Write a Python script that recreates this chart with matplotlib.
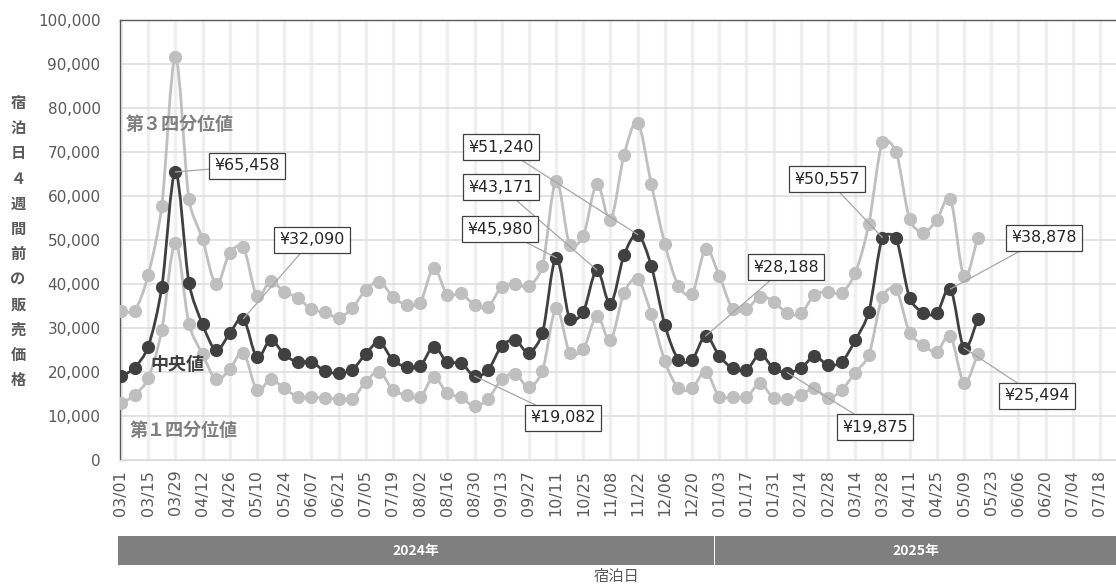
import numpy as np
import pandas as pd
import matplotlib
matplotlib.use("Agg")
import matplotlib.pyplot as plt
import matplotlib.dates as mdates
from matplotlib.path import Path
from matplotlib.patches import PathPatch, Rectangle

plt.rcParams["font.family"] = ["DejaVu Sans", "Noto Sans CJK JP"]

W, H = 1116, 585

# weekly stay dates
dates = pd.date_range("2024-03-01", periods=64, freq="7D")

median = [19000, 20980, 25760, 39250, 65458, 40300, 30840, 25000, 28800, 32090,
          23340, 27270, 24020, 22200, 22350, 20150, 19800, 20500, 24100, 26800,
          22650, 21200, 21300, 25760, 22200, 22050, 19082, 20450, 25900, 27200,
          24390, 28940, 45980, 32100, 33710, 43171, 35500, 46590, 51240, 44090,
          30680, 22800, 22800, 28188, 23640, 20830, 20450, 24000, 20830, 19875,
          20830, 23550, 21600, 22300, 27200, 33710, 50557, 50380, 36850, 33520,
          33400, 38878, 25494, 31970]

q3 = [33940, 33940, 42050, 57800, 91520, 59240, 50150, 39920, 47120, 48330,
      37270, 40680, 38180, 36890, 34240, 33560, 32350, 34470, 38640, 40530,
      37120, 35230, 35760, 43560, 37500, 37880, 35230, 34800, 39400, 40000,
      39450, 44090, 63480, 48860, 50910, 62730, 54550, 69320, 76670, 62730,
      49090, 39550, 37730, 47880, 41820, 34240, 34240, 37120, 35990, 33330,
      33330, 37500, 38260, 38030, 42500, 53640, 72350, 70080, 54700, 51670,
      54550, 59240, 41750, 50530]

q1 = [12880, 14770, 18560, 29550, 49390, 30900, 24000, 18330, 20600, 24390,
      15910, 18330, 16290, 14390, 14390, 14020, 13860, 13790, 17800, 20070,
      15910, 14770, 14240, 18790, 15150, 14240, 12270, 13900, 18330, 19550,
      16520, 20300, 34470, 24390, 25150, 32730, 27270, 38030, 41060, 33180,
      22450, 16290, 16290, 20070, 14390, 14390, 14240, 17420, 14020, 13790,
      14770, 16290, 14020, 15900, 19880, 23860, 37120, 38790, 28940, 26140,
      24620, 28180, 17580, 24090]

tick_dates = pd.date_range("2024-03-01", "2025-07-18", freq="14D")

# labelled points: (index, box centre in image pixels)
callouts = [(4, 247, 166), (9, 312, 240), (38, 501, 147), (35, 501, 187),
            (32, 500, 229), (26, 563, 418), (43, 786, 267), (56, 827, 179),
            (49, 875, 427), (61, 1044, 238), (62, 1037, 396)]

SX = 1.9425          # px per day
SY = 440 / 100000    # px per yen


def clamp(vx, vy, seg, k=0.4):
    L = np.hypot(vx * SX, vy * SY)
    if L > k * seg and L > 0:
        f = k * seg / L
        return vx * f, vy * f
    return vx, vy


def smooth_path(x, y):
    verts = [(x[0], y[0])]
    codes = [Path.MOVETO]
    n = len(x)
    for i in range(n - 1):
        xa, ya = (x[i - 1], y[i - 1]) if i > 0 else (x[i], y[i])
        xb, yb = (x[i + 2], y[i + 2]) if i + 2 < n else (x[i + 1], y[i + 1])
        seg = np.hypot((x[i + 1] - x[i]) * SX, (y[i + 1] - y[i]) * SY)
        h1 = clamp((x[i + 1] - xa) / 6, (y[i + 1] - ya) / 6, seg)
        h2 = clamp((xb - x[i]) / 6, (yb - y[i]) / 6, seg)
        c1 = (x[i] + h1[0], y[i] + h1[1])
        c2 = (x[i + 1] - h2[0], y[i + 1] - h2[1])
        verts += [c1, c2, (x[i + 1], y[i + 1])]
        codes += [Path.CURVE4] * 3
    return Path(verts, codes)


def px(x, y):
    return x / W, 1 - y / H


fig = plt.figure(figsize=(W / 100, H / 100), dpi=100)
ax = fig.add_axes([120 / W, 1 - 460 / H, 1 - 120 / W, 440 / H])

xn = mdates.date2num(dates)
for vals, col, z in [(q3, "#bfbfbf", 3), (q1, "#bfbfbf", 3), (median, "#404040", 5)]:
    ax.add_patch(PathPatch(smooth_path(xn, np.array(vals, float)), fill=False,
                           ec=col, lw=2.0, zorder=z))
    ax.plot(dates, vals, "o", ms=8.5, color=col, zorder=z + 0.5)

x0 = mdates.date2num(pd.Timestamp("2024-03-01")) - 0.5
x1 = x0 + (W - 120) / SX
ax.set_xlim(x0, x1)
ax.set_ylim(0, 100000)

ax.set_yticks(np.arange(0, 100001, 10000))
ax.yaxis.set_major_formatter(matplotlib.ticker.FuncFormatter(lambda v, p: f"{int(v):,}"))
ax.set_xticks(tick_dates)
ax.set_xticklabels([d.strftime("%m/%d") for d in tick_dates], rotation=90)
ax.tick_params(axis="y", length=0, pad=14, labelsize=11, labelcolor="#595959")
ax.tick_params(axis="x", length=0, pad=7, labelsize=11.5, labelcolor="#595959")

ax.grid(axis="x", color="#efefef", lw=2.5, zorder=0)
ax.grid(axis="y", color="#dedede", lw=1.2, zorder=0)
ax.set_axisbelow(True)
for s in ["top", "left"]:
    ax.spines[s].set_color("#595959")
    ax.spines[s].set_linewidth(1.0)
ax.spines["bottom"].set_color("#d9d9d9")
ax.spines["right"].set_visible(False)

# call-out boxes
for idx, bx, by in callouts:
    ax.annotate(f"¥{median[idx]:,}", xy=(dates[idx], median[idx]),
                xytext=(bx, H - by), textcoords="figure pixels",
                ha="center", va="center", fontsize=11.4, color="#262626",
                bbox=dict(boxstyle="square,pad=0.32", fc="white", ec="#404040", lw=0.9),
                arrowprops=dict(arrowstyle="-", color="#a6a6a6", lw=0.9,
                                shrinkA=0, shrinkB=0),
                zorder=10)

# series names
jp = "Noto Sans CJK JP"
fig.text(*px(126, 125), "第３四分位値", family=jp, fontsize=13, weight="bold",
         color="#808080", va="center", ha="left")
fig.text(*px(150, 365), "中央値", family=jp, fontsize=13, weight="bold",
         color="#404040", va="center", ha="left")
fig.text(*px(130, 431), "第１四分位値", family=jp, fontsize=13, weight="bold",
         color="#808080", va="center", ha="left")

# stacked y label
for i, ch in enumerate("宿泊日４週間前の販売価格"):
    fig.text(*px(18, 103 + i * 25.2), ch, family=jp, fontsize=11, weight="bold",
             color="#595959", ha="center", va="center")

# year band under the axis
band_y0, band_h = -(536 - 460) / 440, -(565 - 536) / 440
split = mdates.date2num(pd.Timestamp("2024-12-31 12:00"))
trans = matplotlib.transforms.blended_transform_factory(ax.transData, ax.transAxes)
for a, b, lab in [(x0 - 1, split - 0.3, "2024年"), (split + 0.3, x1 + 5, "2025年")]:
    ax.add_patch(Rectangle((a, band_y0), b - a, band_h, transform=trans,
                           fc="#7f7f7f", ec="none", clip_on=False))
    ax.text((a + min(b, x1)) / 2, band_y0 + band_h / 2, lab, transform=trans,
            family=jp, fontsize=10, weight="bold", color="white",
            ha="center", va="center")

fig.text(*px(617, 577), "宿泊日", family=jp, fontsize=11, color="#595959",
         ha="center", va="center")

fig.savefig("out.png", dpi=100)
